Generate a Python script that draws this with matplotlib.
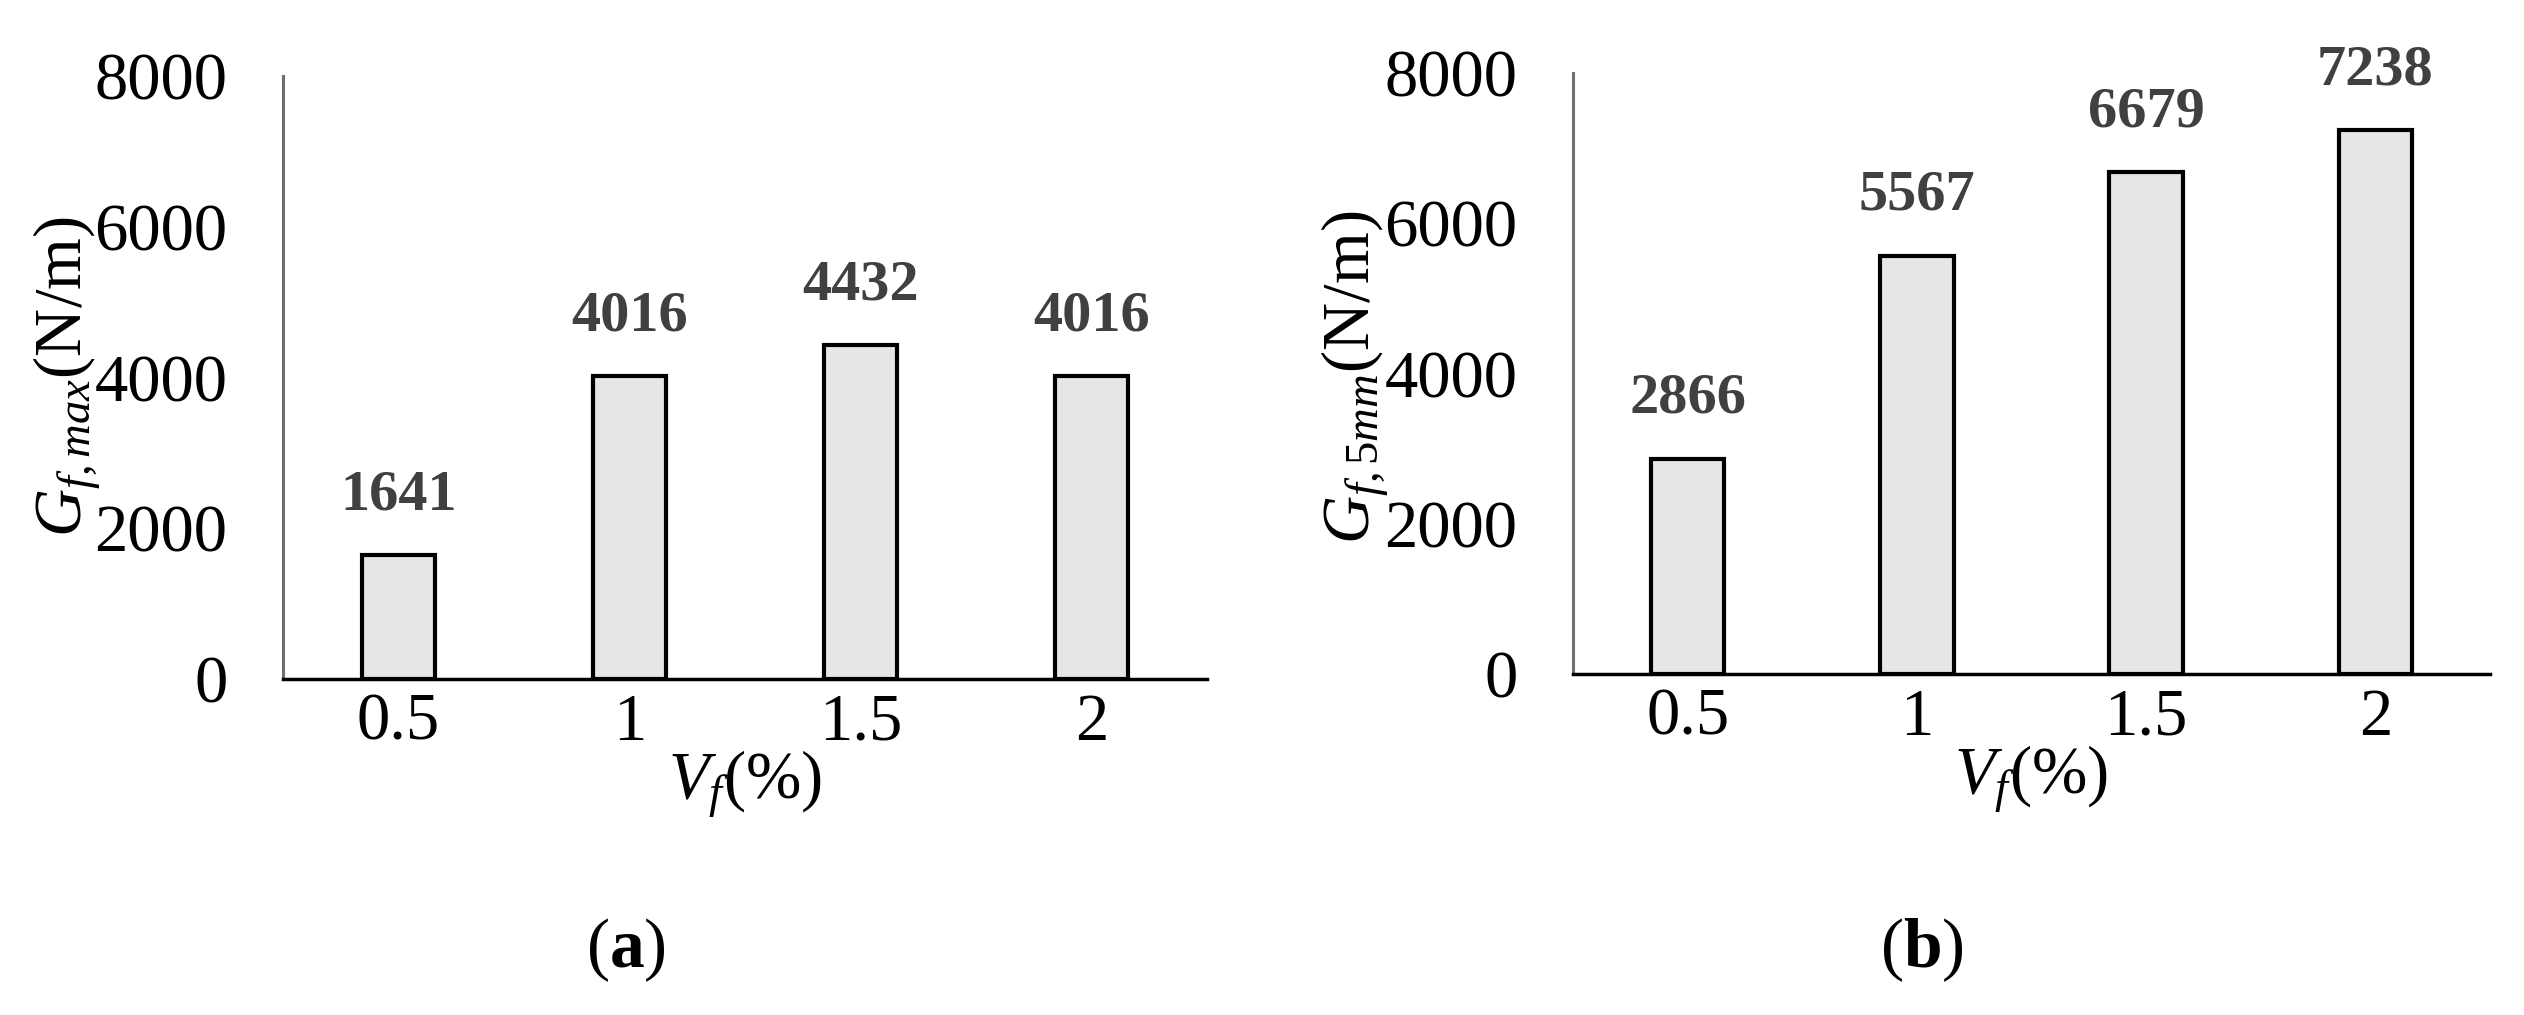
import matplotlib
matplotlib.use('Agg')
import matplotlib.pyplot as plt

plt.rcParams['font.family'] = 'Liberation Serif'
plt.rcParams['mathtext.fontset'] = 'custom'
plt.rcParams['mathtext.rm'] = 'Liberation Serif'
plt.rcParams['mathtext.it'] = 'Liberation Serif:italic'
plt.rcParams['mathtext.bf'] = 'Liberation Serif:bold'

# data
vf_labels = ['0.5', '1', '1.5', '2']
g_max = [1641, 4016, 4432, 4016]
g_5mm = [2866, 5567, 6679, 7238]
y_ticks = [0, 2000, 4000, 6000, 8000]

W, H = 2524, 1015
fig = plt.figure(figsize=(W / 100, H / 100), dpi=100)

panels = [
    (g_max, r'$G_{f,max}$(N/m)', [283, 76, 1207, 679], 67, '(a)', 626),
    (g_5mm, r'$G_{f,5mm}$(N/m)', [1573, 73, 2490, 674], 1355, '(b)', 1922),
]

for values, ylab, box, ylab_x, tag, tag_x in panels:
    x0, y0, x1, y1 = box
    ax = fig.add_axes([x0 / W, 1 - y1 / H, (x1 - x0) / W, (y1 - y0) / H])
    pos = range(len(values))
    ax.bar(pos, values, width=0.32, color='#E6E6E6', edgecolor='black',
           linewidth=3.0, zorder=3)
    for p, v in zip(pos, values):
        ax.annotate(str(v), (p, v), xytext=(0, 33), textcoords='offset points',
                    ha='center', va='baseline', fontsize=42,
                    fontweight='bold', color='#404040')
    ax.set_xlim(-0.5, 3.5)
    ax.set_ylim(0, 8000)
    ax.set_xticks(list(pos))
    ax.set_xticklabels(vf_labels)
    ax.set_yticks(y_ticks)
    ax.tick_params(axis='both', length=0, labelsize=48)
    ax.tick_params(axis='y', pad=40)
    ax.tick_params(axis='x', pad=10)
    for s in ['top', 'right']:
        ax.spines[s].set_visible(False)
    ax.spines['left'].set_color('#6e6e6e')
    ax.spines['left'].set_linewidth(2.2)
    ax.spines['bottom'].set_color('black')
    ax.spines['bottom'].set_linewidth(2.5)
    ax.set_xlabel(r'$V_f$(%)', fontsize=48, labelpad=-4)

    fig.text(ylab_x / W, 1 - 377 / H, ylab, rotation=90, fontsize=48,
             ha='center', va='center', rotation_mode='anchor')
    fig.text(tag_x / W, 1 - 950 / H, r'($\mathbf{' + tag[1] + '}$)',
             fontsize=50, ha='center', va='center')

fig.savefig('out.png', dpi=100)
